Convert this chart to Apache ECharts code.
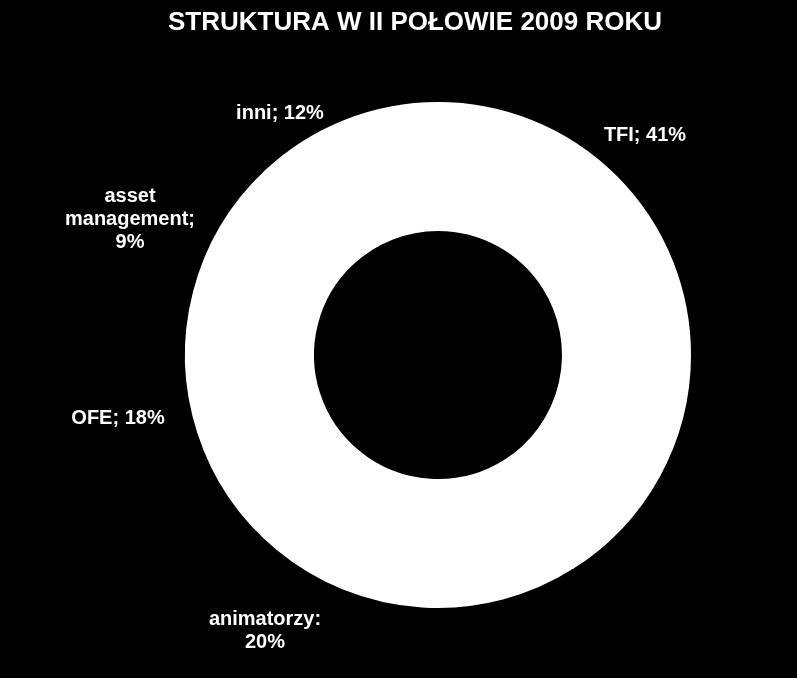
<!DOCTYPE html>
<html>
<head>
<meta charset="utf-8">
<script src="https://cdn.jsdelivr.net/npm/echarts@6/dist/echarts.min.js"></script>
<style>
html,body{margin:0;padding:0;background:#000;}
#c{width:797px;height:678px;}
</style>
</head>
<body>
<div id="c"></div>
<script>
var categories = ['TFI', 'animatorzy', 'OFE', 'asset management', 'inni'];
var values = [41, 20, 18, 9, 12];
var labelTexts = ['TFI; 41%', 'animatorzy:\n20%', 'OFE; 18%', 'asset\nmanagement;\n9%', 'inni; 12%'];
var titleText = 'STRUKTURA W II POŁOWIE 2009 ROKU';

// label anchor positions (layout only)
var labelPos = [[645,135],[265,631],[118,418],[130,219],[280,113]];

var chart = echarts.init(document.getElementById('c'));
chart.setOption({
  backgroundColor: '#000',
  animation: false,
  title: {
    text: titleText,
    left: 410, top: 5,
    textAlign: 'center',
    textStyle: {color:'#fff', fontFamily:'Liberation Sans, Arial, sans-serif', fontWeight:'bold', fontSize:26}
  },
  series: [{
    type: 'pie',
    center: [438, 355],
    radius: [125, 252],
    startAngle: 90,
    clockwise: true,
    silent: true,
    itemStyle: {color:'#fff', borderColor:'#fff', borderWidth:2},
    labelLine: {show:false},
    label: {
      show: true,
      position: 'outside',
      color: '#fff',
      fontFamily: 'Liberation Sans, Arial, sans-serif',
      fontWeight: 'bold',
      fontSize: 20,
      lineHeight: 23,
      align: 'center',
      overflow: 'none',
      width: 200,
      formatter: function(p){ return labelTexts[p.dataIndex]; }
    },
    labelLayout: function(p){
      var pos = labelPos[p.dataIndex];
      return {x: pos[0], y: pos[1], align: 'center', verticalAlign: 'middle', hideOverlap: false, moveOverlap: null};
    },
    data: categories.map(function(n,i){ return {name:n, value:values[i]}; })
  }]
});
</script>
</body>
</html>
